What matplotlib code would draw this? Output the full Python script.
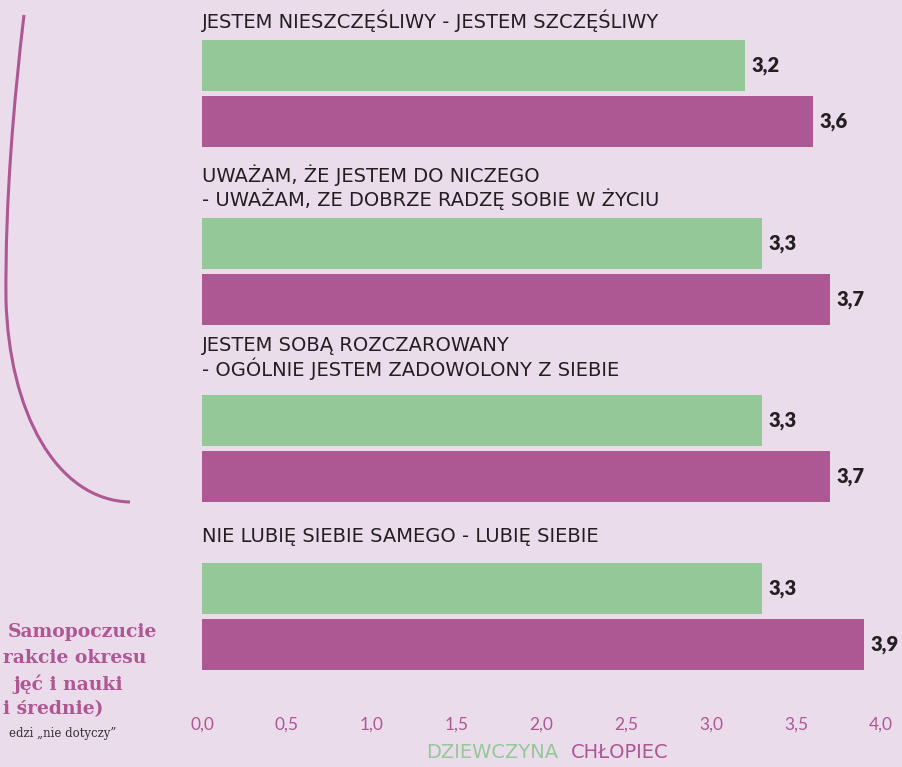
import matplotlib.pyplot as plt
from matplotlib.path import Path
from matplotlib.patches import PathPatch

# dane
kategorie = [
    "JESTEM NIESZCZĘŚLIWY - JESTEM SZCZĘŚLIWY",
    "UWAŻAM, ŻE JESTEM DO NICZEGO\n- UWAŻAM, ZE DOBRZE RADZĘ SOBIE W ŻYCIU",
    "JESTEM SOBĄ ROZCZAROWANY\n- OGÓLNIE JESTEM ZADOWOLONY Z SIEBIE",
    "NIE LUBIĘ SIEBIE SAMEGO - LUBIĘ SIEBIE",
]
dziewczyna = [3.2, 3.3, 3.3, 3.3]
chlopiec = [3.6, 3.7, 3.7, 3.9]
xticks = [0.0, 0.5, 1.0, 1.5, 2.0, 2.5, 3.0, 3.5, 4.0]

TLO = "#ebdcec"
ZIELONY = "#94c898"
FIOLET = "#ad5793"
TEKST = "#231f20"
FONT = "DejaVu Sans"

W, H = 903, 767
fig = plt.figure(figsize=(W / 100, H / 100), dpi=100, facecolor=TLO)

def px(x, y):
    return (x / W, 1 - y / H)

# osie: y w pikselach od gory
dol = 700
ax = fig.add_axes([202 / W, 1 - dol / H, (881 - 202) / W, dol / H])
ax.set_facecolor(TLO)
ax.set_xlim(0, 4)
ax.set_ylim(dol, 0)
for s in ax.spines.values():
    s.set_visible(False)
ax.set_yticks([])
ax.set_xticks(xticks)
ax.set_xticklabels([f"{t:.1f}".replace(".", ",") for t in xticks],
                   color=FIOLET, fontsize=12.5, family="Lato")
ax.tick_params(axis="x", length=0, pad=12)

gora = [40, 218, 395, 563]       # gorna krawedz zielonego paska
etykieta_y = [21, 187, 358, 536]  # srodek tekstu kategorii
h = 51
odstep = 5

for i in range(len(kategorie)):
    y1 = gora[i] + h / 2
    y2 = gora[i] + h + odstep + h / 2
    ax.barh(y1, dziewczyna[i], height=h, color=ZIELONY)
    ax.barh(y2, chlopiec[i], height=h, color=FIOLET)
    for y, v in [(y1, dziewczyna[i]), (y2, chlopiec[i])]:
        ax.annotate(f"{v:.1f}".replace(".", ","), (v, y), xytext=(4.5, 0),
                    textcoords="offset points", va="center", ha="left",
                    fontsize=14.5, fontweight="heavy", color=TEKST, family="Lato")
    ax.text(0, etykieta_y[i], kategorie[i], va="center", ha="left",
            fontsize=14, color=TEKST, family=FONT, linespacing=1.12)

# legenda
fig.text(*px(426, 753), "DZIEWCZYNA", color=ZIELONY, fontsize=14,
         family=FONT, va="center", ha="left")
fig.text(*px(571, 753), "CHŁOPIEC", color=FIOLET, fontsize=14,
         family=FONT, va="center", ha="left")

# tytul po lewej (obciety)
tytul = [("Samopoczucie", 157, 632), ("rakcie okresu", 146, 658),
         ("jęć i nauki", 123, 684), ("i średnie)", 103, 709)]
for t, x, y in tytul:
    fig.text(*px(x, y), t, color=FIOLET, fontsize=13.5, fontweight="bold",
             family="DejaVu Serif", ha="right", va="center")
fig.text(*px(116, 733), "edzi \u201enie dotyczy\u201d", color="#333333",
         fontsize=8.5, family="DejaVu Serif", ha="right", va="center")

# luk
pts = [(24, 15), (14, 100), (5, 200), (6, 300),
       (9, 410), (55, 500), (130, 502)]
kody = [Path.MOVETO] + [Path.CURVE4] * 6
sciezka = Path([px(x, y) for x, y in pts], kody)
fig.patches.append(PathPatch(sciezka, transform=fig.transFigure,
                             facecolor="none", edgecolor=FIOLET, lw=2.2))

fig.savefig("out.png", dpi=100, facecolor=TLO)
